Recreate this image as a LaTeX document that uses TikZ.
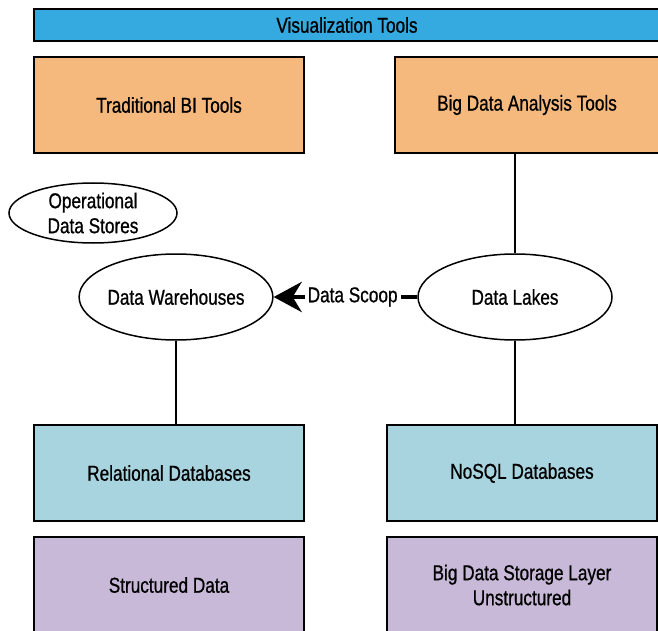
\documentclass[tikz,border=0pt]{standalone}
\usepackage{fontspec}
\setmainfont{Liberation Sans}[FakeStretch=0.8,FakeBold=0.8]
\usetikzlibrary{shapes.geometric,arrows.meta}
\definecolor{vizblue}{RGB}{52,170,224}
\definecolor{toolorange}{RGB}{245,185,125}
\definecolor{dbblue}{RGB}{168,212,224}
\definecolor{datapurple}{RGB}{201,185,216}
\begin{document}
\begin{tikzpicture}[x=1pt,y=-1pt,
  every node/.style={font=\fontsize{21.5}{25}\selectfont, text=black},
  box/.style={draw=black, line width=2pt, rectangle, inner sep=0pt, align=center},
  oval/.style={draw=black, line width=1.5pt, ellipse, inner sep=0pt, align=center, fill=white},
  conn/.style={draw=black, line width=1.2pt}]
\useasboundingbox (0,0) rectangle (658,631);
\clip (0,0) rectangle (658,631);
\node[box, fill=vizblue, minimum width=626pt, minimum height=32pt] (viz) at (347,25) {Visualization Tools};
\node[box, fill=toolorange, minimum width=270pt, minimum height=96pt] (trad) at (169,105) {Traditional BI Tools};
\node[box, fill=toolorange, minimum width=264pt, minimum height=96pt] (bda) at (527,105) {Big Data Analysis Tools};
\node[oval, minimum width=168pt, minimum height=60pt] (ods) at (93,213) {Operational\\Data Stores};
\node[oval, minimum width=192pt, minimum height=86pt] (wh) at (176,297) {Data Warehouses};
\node[oval, minimum width=194pt, minimum height=86pt] (lakes) at (515,297) {Data Lakes};
\node[box, fill=dbblue, minimum width=270pt, minimum height=96pt] (rel) at (169,473) {Relational Databases};
\node[box, fill=dbblue, minimum width=270pt, minimum height=96pt] (nosql) at (522,473) {NoSQL Databases};
\node[box, fill=datapurple, minimum width=270pt, minimum height=96pt] (struct) at (169,585) {Structured Data};
\node[box, fill=datapurple, minimum width=270pt, minimum height=96pt] (bigstore) at (522,585) {Big Data Storage Layer\\Unstructured};
\draw[conn] (bda.south -| lakes.north) -- (lakes.north);
\draw[conn] (wh.south) -- (rel.north -| wh.south);
\draw[conn] (lakes.south) -- (nosql.north -| lakes.south);
\draw[line width=4.5pt, -{Stealth[length=28pt,width=30pt,inset=9pt]}] (lakes.west) -- node[pos=0.45, fill=white, inner sep=3pt] {Data Scoop} (wh.east);
\end{tikzpicture}
\end{document}
